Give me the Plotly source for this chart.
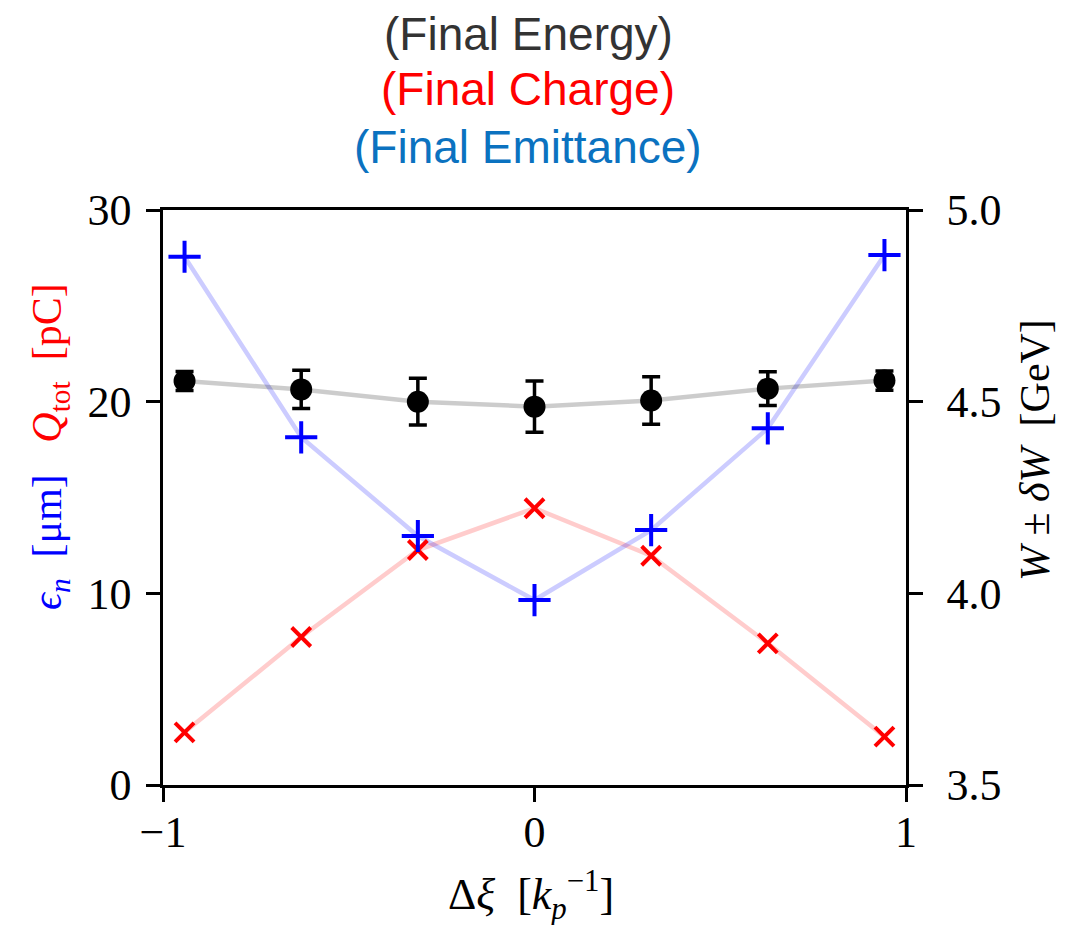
import plotly.graph_objects as go

# Data
dxi = [-0.942, -0.628, -0.314, 0.0, 0.314, 0.628, 0.942]
emittance = [27.56, 18.14, 12.99, 9.65, 13.30, 18.61, 27.65]
charge = [2.75, 7.72, 12.26, 14.44, 11.96, 7.39, 2.52]
energy = [4.554, 4.532, 4.500, 4.487, 4.503, 4.534, 4.555]
energy_err = [0.025, 0.050, 0.061, 0.067, 0.062, 0.044, 0.025]

x_ticks = [-1, 0, 1]
x_ticktext = ["\u22121", "0", "1"]
y_ticks = [0, 10, 20, 30]
y2_ticks = [3.5, 4.0, 4.5, 5.0]
y2_ticktext = ["3.5", "4.0", "4.5", "5.0"]

SERIF = "Liberation Serif"
SANS = "Liberation Sans"

fig = go.Figure()

# faint connecting lines
fig.add_trace(go.Scatter(x=dxi, y=charge, mode="lines",
                         line=dict(color="rgba(255,0,0,0.2)", width=4.5),
                         showlegend=False, hoverinfo="skip"))
fig.add_trace(go.Scatter(x=dxi, y=emittance, mode="lines",
                         line=dict(color="rgba(0,0,255,0.2)", width=4.5),
                         showlegend=False, hoverinfo="skip"))
# markers
fig.add_trace(go.Scatter(x=dxi, y=charge, mode="markers",
                         marker=dict(symbol="x-thin", size=19,
                                     line=dict(color="#ff0000", width=4)),
                         showlegend=False))
fig.add_trace(go.Scatter(x=dxi, y=emittance, mode="markers",
                         marker=dict(symbol="cross-thin", size=23,
                                     line=dict(color="#0000ff", width=4)),
                         showlegend=False))
# energy on secondary axis
fig.add_trace(go.Scatter(x=dxi, y=energy, mode="lines", yaxis="y2",
                         line=dict(color="rgba(0,0,0,0.2)", width=4.5),
                         showlegend=False, hoverinfo="skip"))
fig.add_trace(go.Scatter(x=dxi, y=energy, mode="markers", yaxis="y2",
                         marker=dict(symbol="circle", size=22, color="black"),
                         error_y=dict(type="data", array=energy_err, visible=True,
                                      color="black", thickness=3.5, width=9),
                         showlegend=False))

axis_common = dict(
    showgrid=False, zeroline=False, showline=True, linecolor="black",
    linewidth=2.5, ticks="outside", ticklen=14, tickwidth=2.5,
    tickcolor="black", tickfont=dict(family=SERIF, size=44, color="black"),
)

fig.update_layout(
    width=1081, height=925,
    margin=dict(l=163, r=175, t=210, b=140),
    paper_bgcolor="white", plot_bgcolor="white",
    xaxis=dict(range=[-1, 1], tickvals=x_ticks, ticktext=x_ticktext,
               mirror=True, ticklabelstandoff=-8, **axis_common),
    yaxis=dict(range=[0, 30], tickvals=y_ticks, ticklabelstandoff=6,
               **axis_common),
    yaxis2=dict(range=[3.5, 5.0], tickvals=y2_ticks, ticktext=y2_ticktext,
                overlaying="y", side="right", ticklabelstandoff=15,
                **axis_common),
)

def py(ypx):
    return (785 - ypx) / 575.0

def px(xpx):
    return (xpx - 163) / 743.0

titles = [("(Final Energy)", "#333333", 34),
          ("(Final Charge)", "#ff0000", 89),
          ("(Final Emittance)", "#0b72c0", 147)]
for txt, col, ypix in titles:
    fig.add_annotation(text=txt, xref="paper", yref="paper",
                       x=px(528), y=py(ypix), xanchor="center", yanchor="middle",
                       showarrow=False,
                       font=dict(family=SANS, size=46, color=col))

fig.add_annotation(
    text='<span style="color:#0000ff"><i>\u03f5<sub>n</sub></i>  [\u03bcm]</span>'
         '   <span style="color:#ff0000"><i>Q</i><sub>tot</sub>  [pC]</span>',
    xref="paper", yref="paper", x=px(50), y=py(447), textangle=-90,
    xanchor="center", yanchor="middle", showarrow=False,
    font=dict(family=SERIF, size=42))

fig.add_annotation(
    text='<i>W</i> \u00b1 <i>\u03b4W</i>  [GeV]',
    xref="paper", yref="paper", x=px(1035), y=py(450), textangle=-90,
    xanchor="center", yanchor="middle", showarrow=False,
    font=dict(family=SERIF, size=42, color="black"))

fig.add_annotation(
    text='\u0394<i>\u03be</i>  [<i>k</i><sub><i>p</i></sub><sup>\u22121</sup>]',
    xref="paper", yref="paper", x=px(531), y=py(895),
    xanchor="center", yanchor="middle", showarrow=False,
    font=dict(family=SERIF, size=44, color="black"))

fig.write_html("out.html")
